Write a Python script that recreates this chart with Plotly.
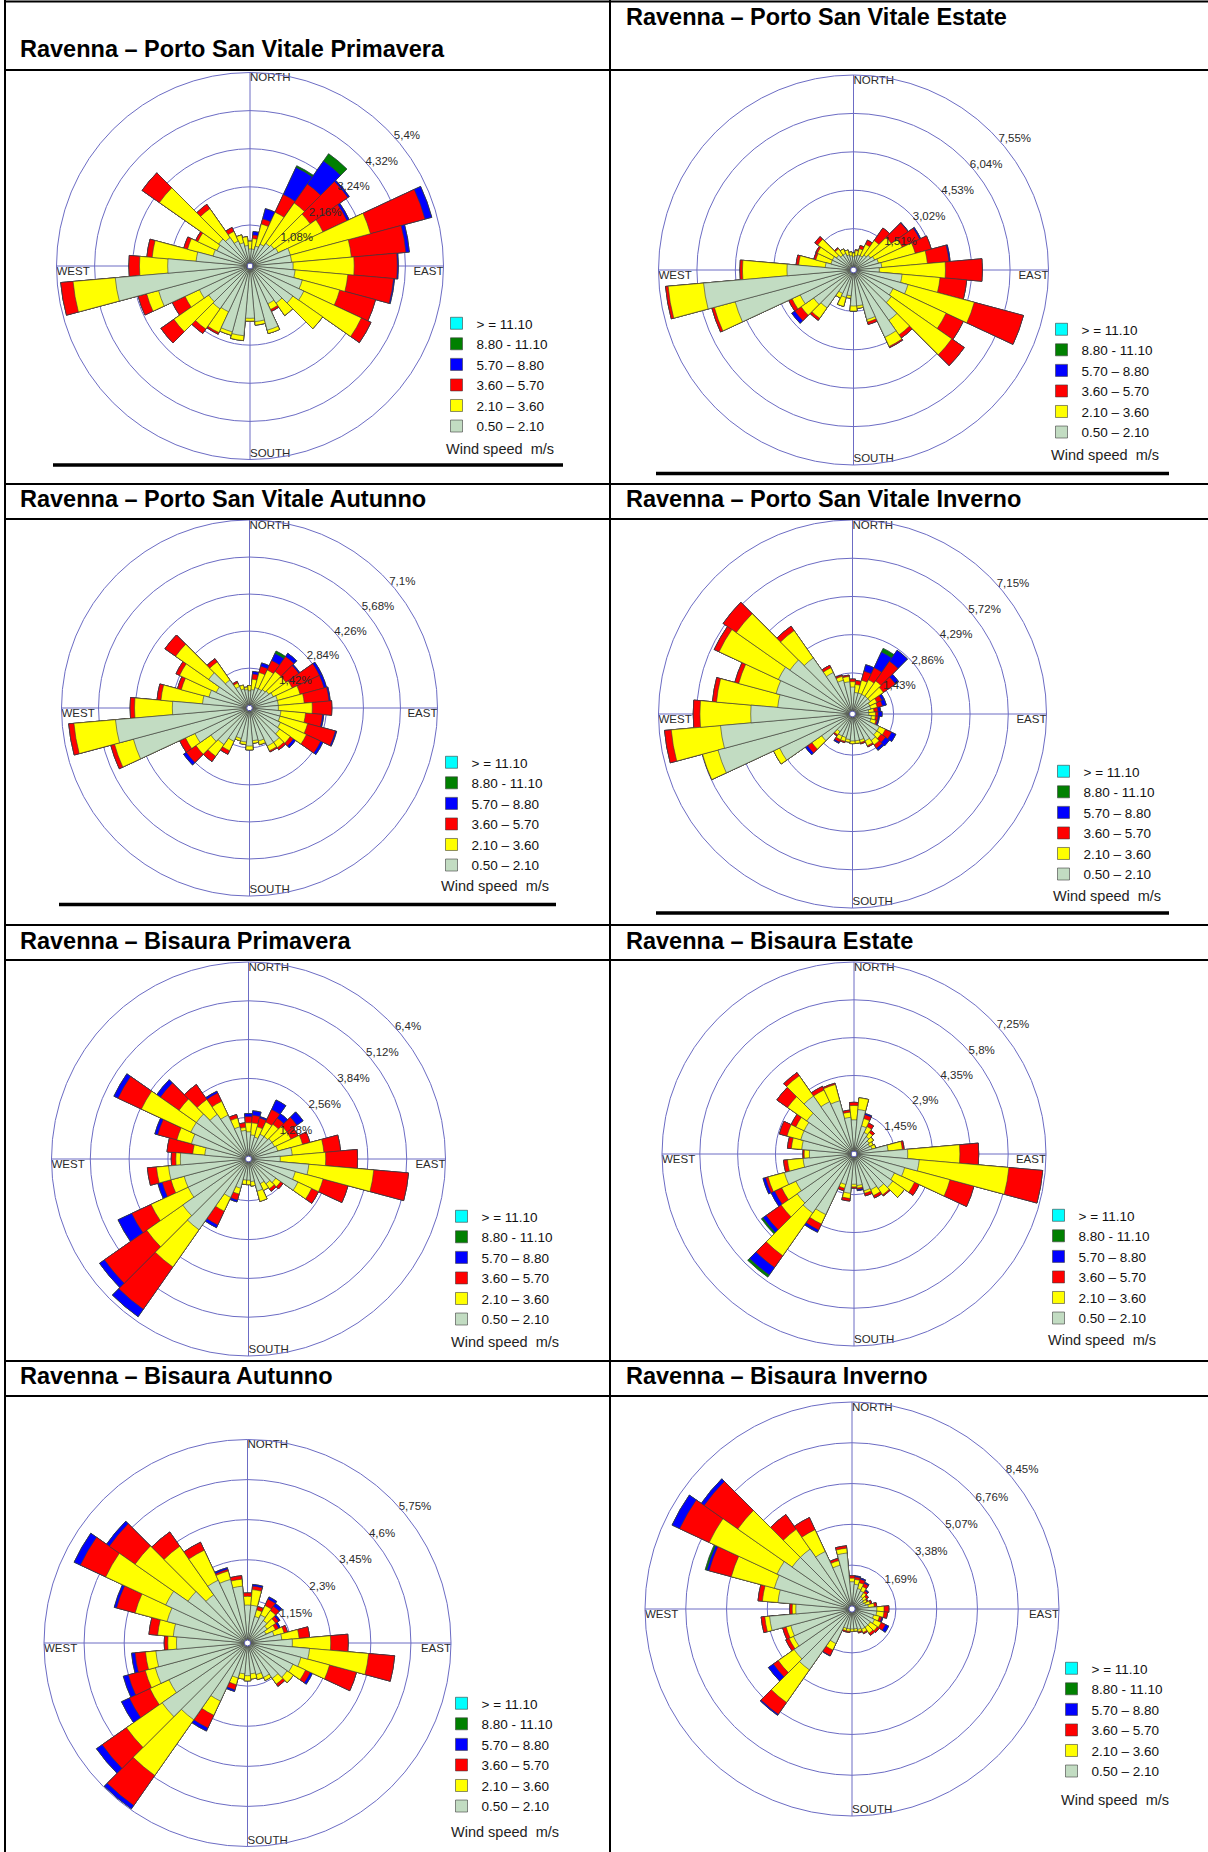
import plotly.graph_objects as go

W, H = 1208, 1852
FONT = "Arial, 'Liberation Sans', sans-serif"

DIRECTIONS = [0, 10, 20, 30, 40, 50, 60, 70, 80, 90, 100, 110, 120, 130, 140, 150, 160, 170,
              180, 190, 200, 210, 220, 230, 240, 250, 260, 270, 280, 290, 300, 310, 320, 330, 340, 350]

SPEED_CLASSES = ["> = 11.10", "8.80 - 11.10", "5.70 \u2013 8.80", "3.60 \u2013 5.70",
                 "2.10 \u2013 3.60", "0.50 \u2013 2.10"]
CLASS_COLORS = ["#00ffff", "#008000", "#0000ff", "#ff0000", "#ffff00", "#c2dcc2"]

TITLES = [
    "Ravenna \u2013 Porto San Vitale Primavera", "Ravenna \u2013 Porto San Vitale Estate",
    "Ravenna \u2013 Porto San Vitale Autunno", "Ravenna \u2013 Porto San Vitale Inverno",
    "Ravenna \u2013 Bisaura Primavera", "Ravenna \u2013 Bisaura Estate",
    "Ravenna \u2013 Bisaura Autunno", "Ravenna \u2013 Bisaura Inverno",
]

RING_VALUES = [
    [1.08, 2.16, 3.24, 4.32, 5.4], [1.51, 3.02, 4.53, 6.04, 7.55],
    [1.42, 2.84, 4.26, 5.68, 7.1], [1.43, 2.86, 4.29, 5.72, 7.15],
    [1.28, 2.56, 3.84, 5.12, 6.4], [1.45, 2.9, 4.35, 5.8, 7.25],
    [1.15, 2.3, 3.45, 4.6, 5.75], [1.69, 3.38, 5.07, 6.76, 8.45],
]
RING_LABELS = [
    ["1,08%", "2,16%", "3,24%", "4,32%", "5,4%"], ["1,51%", "3,02%", "4,53%", "6,04%", "7,55%"],
    ["1,42%", "2,84%", "4,26%", "5,68%", "7,1%"], ["1,43%", "2,86%", "4,29%", "5,72%", "7,15%"],
    ["1,28%", "2,56%", "3,84%", "5,12%", "6,4%"], ["1,45%", "2,9%", "4,35%", "5,8%", "7,25%"],
    ["1,15%", "2,3%", "3,45%", "4,6%", "5,75%"], ["1,69%", "3,38%", "5,07%", "6,76%", "8,45%"],
]

# Cumulative frequency (%) per direction: upper edge of classes
# 0.50-2.10, 2.10-3.60, 3.60-5.70, 5.70-8.80, 8.80-11.10  (no values >= 11.10)
PSV_PRIMAVERA = [
    (0.40, 0.62, 0.62, 0.62, 0.62), (0.40, 0.70, 0.80, 0.90, 0.90), (0.50, 1.15, 1.30, 1.60, 1.60),
    (0.60, 1.60, 2.15, 3.00, 3.05), (0.70, 2.10, 2.75, 3.55, 3.80), (0.75, 2.00, 3.30, 3.35, 3.35),
    (0.80, 2.20, 2.95, 3.02, 3.02), (1.10, 3.45, 5.05, 5.25, 5.25), (1.10, 2.80, 4.35, 4.45, 4.45),
    (1.14, 2.87, 4.09, 4.12, 4.12), (1.20, 2.70, 4.00, 4.03, 4.03), (1.45, 2.55, 3.60, 3.60, 3.60),
    (1.60, 3.40, 3.70, 3.70, 3.70), (1.40, 2.43, 2.43, 2.43, 2.43), (1.20, 1.63, 1.63, 1.63, 1.63),
    (1.10, 1.28, 1.34, 1.34, 1.34), (1.80, 1.90, 1.90, 1.90, 1.90), (1.50, 1.60, 1.60, 1.60, 1.60),
    (1.40, 1.48, 1.48, 1.48, 1.48), (1.90, 2.04, 2.04, 2.04, 2.04), (1.85, 1.95, 1.95, 1.95, 1.95),
    (1.35, 2.00, 2.05, 2.05, 2.05), (1.40, 2.10, 2.25, 2.25, 2.25), (1.35, 2.55, 3.00, 3.00, 3.00),
    (1.50, 1.95, 2.35, 2.35, 2.35), (2.60, 2.95, 3.20, 3.20, 3.20), (3.75, 4.95, 5.30, 5.30, 5.30),
    (2.25, 3.05, 3.35, 3.35, 3.35), (1.45, 2.70, 2.85, 2.85, 2.85), (1.00, 1.75, 1.86, 1.86, 1.86),
    (0.95, 1.55, 1.62, 1.62, 1.62), (1.00, 3.05, 3.65, 3.65, 3.65), (0.90, 1.90, 2.05, 2.05, 2.05),
    (0.70, 1.00, 1.12, 1.12, 1.12), (0.60, 0.83, 0.83, 0.83, 0.83), (0.50, 0.75, 0.75, 0.75, 0.75),
]
PSV_ESTATE = [
    (0.40, 0.55, 0.55, 0.55, 0.55), (0.45, 0.65, 0.68, 0.68, 0.68), (0.50, 0.75, 0.88, 0.88, 0.88),
    (0.50, 1.00, 1.18, 1.18, 1.18), (0.60, 1.30, 1.90, 1.90, 1.90), (0.70, 1.70, 2.50, 2.52, 2.52),
    (0.80, 2.00, 2.75, 2.80, 2.80), (0.90, 2.40, 3.05, 3.05, 3.05), (1.00, 2.80, 3.65, 3.70, 3.70),
    (0.90, 3.50, 4.95, 4.95, 4.95), (1.80, 3.30, 4.35, 4.35, 4.35), (2.10, 4.80, 6.80, 6.80, 6.80),
    (1.60, 3.90, 4.65, 4.65, 4.65), (1.70, 4.60, 5.20, 5.20, 5.20), (2.30, 3.00, 3.15, 3.15, 3.15),
    (2.80, 3.20, 3.25, 3.25, 3.25), (1.90, 2.00, 2.10, 2.10, 2.10), (1.30, 1.40, 1.40, 1.40, 1.40),
    (1.30, 1.50, 1.50, 1.50, 1.50), (0.90, 1.00, 1.00, 1.00, 1.00), (1.00, 1.37, 1.37, 1.37, 1.37),
    (0.90, 1.10, 1.10, 1.10, 1.10), (1.70, 2.20, 2.30, 2.30, 2.30), (1.80, 2.40, 2.70, 2.85, 2.85),
    (2.20, 2.55, 2.70, 2.70, 2.70), (4.70, 5.55, 5.65, 5.65, 5.65), (5.80, 7.20, 7.30, 7.30, 7.30),
    (2.50, 4.25, 4.35, 4.35, 4.35), (1.00, 2.05, 2.15, 2.15, 2.15), (0.80, 1.42, 1.50, 1.50, 1.50),
    (0.80, 1.45, 1.52, 1.52, 1.52), (0.70, 1.60, 1.74, 1.74, 1.74), (0.60, 0.90, 0.95, 0.95, 0.95),
    (0.60, 0.80, 0.80, 0.80, 0.80), (0.50, 0.70, 0.70, 0.70, 0.70), (0.45, 0.60, 0.60, 0.60, 0.60),
]
PSV_AUTUNNO = [
    (0.55, 0.75, 0.75, 0.75, 0.75), (0.60, 1.00, 1.20, 1.30, 1.30), (0.70, 1.30, 1.55, 1.68, 1.68),
    (0.70, 1.50, 1.90, 2.20, 2.30), (0.75, 1.60, 2.30, 2.45, 2.45), (0.80, 1.60, 2.20, 2.25, 2.25),
    (0.90, 1.70, 2.85, 2.95, 2.95), (1.00, 1.90, 2.85, 2.95, 2.95), (1.00, 2.00, 2.95, 3.00, 3.00),
    (1.00, 2.30, 3.05, 3.05, 3.05), (1.10, 2.05, 2.70, 2.75, 2.75), (1.10, 2.20, 3.30, 3.35, 3.35),
    (1.20, 2.30, 2.90, 3.00, 3.00), (1.30, 1.80, 1.95, 2.05, 2.05), (1.50, 1.75, 1.85, 1.85, 1.85),
    (1.50, 1.70, 1.75, 1.75, 1.75), (1.20, 1.35, 1.35, 1.35, 1.35), (1.15, 1.25, 1.25, 1.25, 1.25),
    (1.35, 1.50, 1.50, 1.50, 1.50), (1.20, 1.30, 1.30, 1.30, 1.30), (1.10, 1.20, 1.20, 1.20, 1.20),
    (1.30, 1.70, 1.85, 1.85, 1.85), (1.60, 2.15, 2.40, 2.40, 2.40), (1.70, 2.40, 2.85, 2.98, 2.98),
    (2.20, 2.60, 2.85, 2.85, 2.85), (4.50, 5.25, 5.40, 5.40, 5.40), (5.05, 6.65, 6.85, 6.85, 6.85),
    (2.85, 4.30, 4.47, 4.47, 4.47), (1.70, 3.30, 3.45, 3.45, 3.45), (1.50, 2.60, 2.75, 2.75, 2.75),
    (1.30, 2.85, 3.00, 3.00, 3.00), (1.80, 3.35, 3.85, 3.85, 3.85), (1.20, 2.05, 2.20, 2.20, 2.20),
    (0.80, 0.95, 1.02, 1.02, 1.02), (0.65, 0.80, 0.80, 0.80, 0.80), (0.60, 0.70, 0.70, 0.70, 0.70),
]
PSV_INVERNO = [
    (0.90, 1.10, 1.20, 1.20, 1.20), (0.70, 1.00, 1.15, 1.15, 1.15), (0.70, 1.20, 1.55, 1.80, 1.80),
    (0.70, 1.30, 1.80, 2.45, 2.60), (0.70, 1.40, 2.30, 2.80, 2.80), (0.70, 1.30, 1.85, 2.00, 2.00),
    (0.60, 0.90, 1.10, 1.20, 1.20), (0.60, 0.85, 1.05, 1.20, 1.20), (0.50, 0.70, 0.85, 0.95, 0.95),
    (0.50, 0.75, 0.85, 1.00, 1.00), (0.60, 0.75, 0.85, 0.90, 0.90), (0.60, 0.80, 0.85, 0.90, 0.90),
    (1.00, 1.25, 1.50, 1.68, 1.68), (1.00, 1.20, 1.40, 1.58, 1.58), (1.10, 1.30, 1.45, 1.55, 1.55),
    (1.00, 1.20, 1.25, 1.25, 1.25), (0.90, 1.00, 1.05, 1.05, 1.05), (0.90, 1.00, 1.00, 1.00, 1.00),
    (0.90, 1.00, 1.00, 1.00, 1.00), (0.85, 0.95, 0.95, 0.95, 0.95), (0.80, 0.95, 1.00, 1.00, 1.00),
    (0.80, 0.95, 1.05, 1.10, 1.10), (0.70, 0.85, 0.90, 0.90, 0.90), (1.30, 1.75, 1.95, 2.05, 2.05),
    (2.90, 3.15, 3.15, 3.15, 3.15), (5.10, 5.70, 5.70, 5.70, 5.70), (4.85, 6.70, 6.95, 6.95, 6.95),
    (3.70, 5.60, 5.85, 5.85, 5.85), (2.70, 5.00, 5.15, 5.15, 5.15), (2.85, 4.30, 4.45, 4.45, 4.45),
    (2.95, 5.40, 5.60, 5.60, 5.60), (2.75, 5.20, 5.80, 5.80, 5.80), (2.45, 3.70, 3.90, 3.90, 3.90),
    (1.60, 1.80, 1.90, 1.90, 1.90), (1.20, 1.35, 1.40, 1.40, 1.40), (1.10, 1.30, 1.35, 1.35, 1.35),
]
BIS_PRIMAVERA = [
    (0.80, 1.10, 1.30, 1.40, 1.40), (0.70, 1.10, 1.35, 1.50, 1.50), (0.65, 1.00, 1.30, 1.35, 1.35),
    (0.80, 1.25, 1.70, 2.05, 2.05), (0.80, 1.30, 1.55, 1.73, 1.73), (0.85, 1.45, 1.85, 2.10, 2.10),
    (0.85, 1.45, 1.70, 1.70, 1.70), (0.90, 1.75, 2.00, 2.00, 2.00), (1.35, 2.40, 2.95, 2.95, 2.95),
    (0.95, 2.45, 3.50, 3.50, 3.50), (1.90, 4.05, 5.20, 5.20, 5.20), (1.50, 2.45, 3.30, 3.30, 3.30),
    (1.70, 2.20, 2.45, 2.45, 2.45), (1.00, 1.20, 1.30, 1.30, 1.30), (0.90, 1.10, 1.20, 1.20, 1.20),
    (0.80, 1.05, 1.05, 1.05, 1.05), (1.00, 1.35, 1.35, 1.35, 1.35), (0.65, 0.80, 0.80, 0.80, 0.80),
    (0.60, 0.75, 0.75, 0.75, 0.75), (0.60, 0.75, 0.75, 0.75, 0.75), (0.90, 1.10, 1.30, 1.37, 1.37),
    (1.30, 1.80, 2.30, 2.40, 2.40), (2.75, 4.25, 5.95, 6.25, 6.25), (2.55, 4.00, 5.70, 5.90, 5.90),
    (2.10, 3.45, 4.15, 4.65, 4.65), (2.10, 2.55, 2.85, 3.00, 3.00), (2.55, 2.95, 3.25, 3.25, 3.25),
    (2.15, 2.30, 2.45, 2.45, 2.45), (1.35, 1.75, 2.60, 2.60, 2.60), (1.85, 2.35, 3.00, 3.10, 3.10),
    (2.00, 3.80, 4.65, 4.80, 4.80), (2.00, 2.70, 3.45, 3.60, 3.60), (1.70, 2.30, 2.90, 2.90, 2.90),
    (1.50, 2.00, 2.30, 2.37, 2.37), (1.00, 1.30, 1.42, 1.42, 1.42), (0.85, 0.95, 1.10, 1.10, 1.10),
]
BIS_ESTATE = [
    (1.20, 1.75, 1.87, 1.87, 1.87), (1.60, 2.05, 2.05, 2.05, 2.05), (1.00, 1.30, 1.45, 1.50, 1.50),
    (0.80, 1.05, 1.20, 1.20, 1.20), (0.70, 0.90, 1.00, 1.00, 1.00), (0.60, 0.80, 0.80, 0.80, 0.80),
    (0.55, 0.70, 0.70, 0.70, 0.70), (0.60, 0.75, 0.75, 0.75, 0.75), (1.20, 1.75, 1.82, 1.82, 1.82),
    (1.95, 3.95, 4.67, 4.67, 4.67), (2.40, 5.85, 7.15, 7.15, 7.15), (1.90, 3.70, 4.65, 4.65, 4.65),
    (1.60, 2.45, 2.65, 2.65, 2.65), (1.70, 2.25, 2.25, 2.25, 2.25), (1.50, 1.80, 1.85, 1.85, 1.85),
    (1.40, 1.65, 1.75, 1.75, 1.75), (1.35, 1.45, 1.55, 1.55, 1.55), (1.10, 1.20, 1.25, 1.30, 1.30),
    (1.05, 1.15, 1.20, 1.20, 1.20), (1.40, 1.60, 1.70, 1.70, 1.70), (1.10, 1.25, 1.35, 1.35, 1.35),
    (2.45, 2.85, 3.10, 3.20, 3.20), (2.65, 4.65, 5.20, 5.55, 5.65), (2.55, 3.30, 4.00, 4.15, 4.22),
    (2.35, 2.95, 3.25, 3.40, 3.40), (2.65, 3.30, 3.40, 3.50, 3.50), (1.85, 2.45, 2.60, 2.60, 2.60),
    (1.60, 1.80, 1.85, 1.85, 1.85), (1.90, 2.30, 2.45, 2.45, 2.45), (2.00, 2.55, 2.85, 2.85, 2.85),
    (2.00, 2.35, 2.55, 2.55, 2.55), (2.10, 3.00, 3.50, 3.50, 3.50), (2.60, 3.55, 3.70, 3.70, 3.70),
    (2.10, 2.60, 2.75, 2.75, 2.75), (2.00, 2.65, 2.70, 2.70, 2.70), (1.30, 1.50, 1.58, 1.58, 1.58),
]
BIS_AUTUNNO = [
    (1.00, 1.25, 1.35, 1.35, 1.35), (1.00, 1.45, 1.55, 1.60, 1.60), (0.70, 0.90, 1.00, 1.00, 1.00),
    (0.80, 1.10, 1.30, 1.37, 1.37), (0.70, 1.05, 1.20, 1.30, 1.30), (0.60, 0.90, 1.00, 1.05, 1.05),
    (0.50, 0.80, 0.90, 0.95, 0.95), (0.70, 1.00, 1.10, 1.10, 1.10), (0.90, 1.40, 1.70, 1.70, 1.70),
    (1.20, 2.30, 2.80, 2.80, 2.80), (1.70, 3.40, 4.15, 4.15, 4.15), (1.50, 2.35, 3.15, 3.15, 3.15),
    (1.35, 1.75, 1.90, 1.97, 1.97), (1.30, 1.52, 1.52, 1.52, 1.52), (1.15, 1.35, 1.43, 1.43, 1.43),
    (1.00, 1.10, 1.10, 1.10, 1.10), (0.85, 1.00, 1.00, 1.00, 1.00), (0.80, 0.95, 0.95, 0.95, 0.95),
    (0.85, 1.00, 1.00, 1.00, 1.00), (0.80, 0.95, 0.95, 0.95, 0.95), (0.95, 1.15, 1.30, 1.35, 1.35),
    (1.75, 2.20, 2.60, 2.70, 2.70), (2.60, 4.55, 5.60, 5.72, 5.72), (2.90, 4.15, 5.00, 5.20, 5.20),
    (2.40, 3.00, 3.65, 3.90, 3.90), (2.65, 2.95, 3.45, 3.60, 3.60), (2.55, 2.85, 3.15, 3.25, 3.25),
    (1.95, 2.20, 2.30, 2.30, 2.30), (2.05, 2.50, 2.75, 2.75, 2.75), (2.30, 3.25, 3.80, 3.87, 3.87),
    (2.50, 4.40, 5.20, 5.40, 5.40), (2.00, 3.85, 4.75, 4.85, 4.85), (1.60, 3.30, 3.80, 3.80, 3.80),
    (1.90, 2.85, 3.10, 3.10, 3.10), (1.80, 2.05, 2.10, 2.15, 2.15), (1.55, 1.75, 1.85, 1.85, 1.85),
]
BIS_INVERNO = [
    (1.00, 1.15, 1.25, 1.25, 1.25), (0.90, 1.10, 1.20, 1.25, 1.25), (0.75, 1.00, 1.15, 1.20, 1.20),
    (0.70, 0.90, 1.05, 1.10, 1.10), (0.50, 0.70, 0.80, 0.85, 0.85), (0.45, 0.60, 0.70, 0.70, 0.70),
    (0.40, 0.55, 0.60, 0.60, 0.60), (0.45, 0.65, 0.72, 0.72, 0.72), (0.55, 0.80, 0.90, 0.90, 0.90),
    (0.90, 1.20, 1.40, 1.40, 1.40), (0.90, 1.20, 1.35, 1.35, 1.35), (0.80, 1.05, 1.15, 1.20, 1.20),
    (0.90, 1.20, 1.40, 1.55, 1.55), (0.80, 1.15, 1.25, 1.25, 1.25), (0.80, 1.10, 1.20, 1.20, 1.20),
    (0.80, 0.95, 1.00, 1.00, 1.00), (0.75, 0.85, 0.90, 0.90, 0.90), (0.70, 0.80, 0.80, 0.80, 0.80),
    (0.70, 0.80, 0.80, 0.80, 0.80), (0.70, 0.80, 0.85, 0.85, 0.85), (0.70, 0.80, 0.85, 0.85, 0.85),
    (1.45, 1.75, 2.00, 2.02, 2.02), (2.95, 4.60, 5.20, 5.25, 5.25), (2.80, 3.60, 3.85, 4.10, 4.10),
    (2.55, 2.75, 2.90, 2.90, 2.90), (2.50, 2.70, 2.85, 2.85, 2.85), (3.30, 3.50, 3.65, 3.65, 3.65),
    (2.20, 2.35, 2.45, 2.45, 2.45), (2.95, 3.60, 3.78, 3.78, 3.78), (3.20, 5.05, 6.00, 6.10, 6.17),
    (3.30, 6.40, 7.75, 8.10, 8.10), (2.90, 5.65, 7.35, 7.50, 7.50), (2.90, 3.90, 4.65, 4.65, 4.65),
    (2.50, 3.50, 4.05, 4.05, 4.05), (1.75, 1.95, 2.05, 2.05, 2.05), (2.20, 2.40, 2.50, 2.50, 2.50),
]

PANEL_DATA = [PSV_PRIMAVERA, PSV_ESTATE, PSV_AUTUNNO, PSV_INVERNO,
              BIS_PRIMAVERA, BIS_ESTATE, BIS_AUTUNNO, BIS_INVERNO]

# ---- layout geometry (pixels from the page's top-left) ----
GEOM = [
    dict(cx=250, cy=266, R=193.5, leg=(455, 328), wind=449, title=(18, 49)),
    dict(cx=853.5, cy=270, R=195, leg=(1060, 334), wind=455, title=(624, 17)),
    dict(cx=249.5, cy=708, R=188, leg=(450, 767), wind=886, title=(18, 499)),
    dict(cx=852.5, cy=714, R=194, leg=(1062, 776), wind=896, title=(624, 499)),
    dict(cx=248.5, cy=1159, R=197, leg=(460, 1221), wind=1342, title=(18, 941)),
    dict(cx=854, cy=1154, R=192, leg=(1057, 1220), wind=1340, title=(624, 941)),
    dict(cx=247.5, cy=1643, R=203.5, leg=(460, 1708), wind=1832, title=(18, 1376)),
    dict(cx=852, cy=1609, R=207, leg=(1070, 1673), wind=1800, title=(624, 1376)),
]

RING_COLOR = "#6c6cc4"
LABEL_ANGLE = 48


def px(x):
    return x / W


def py(y):
    return 1 - y / H


fig = go.Figure()
layout = dict(
    width=W, height=H, margin=dict(l=0, r=0, t=0, b=0),
    paper_bgcolor="white", plot_bgcolor="white", showlegend=True,
    annotations=[], shapes=[],
)

for k in range(8):
    g = GEOM[k]
    sp = "polar" if k == 0 else f"polar{k + 1}"
    lg = "legend" if k == 0 else f"legend{k + 1}"
    data = PANEL_DATA[k]
    cols = list(zip(*data))
    # overlay: outermost cumulative first, innermost last
    r_lists = [cols[4], cols[4], cols[3], cols[2], cols[1], cols[0]]
    for name, color, rr in zip(SPEED_CLASSES, CLASS_COLORS, r_lists):
        fig.add_trace(go.Barpolar(
            r=list(rr), theta=DIRECTIONS, width=[10] * len(DIRECTIONS), name=name,
            marker=dict(color=color, line=dict(color="#3c3c3c", width=0.6)),
            subplot=sp, legend=lg, hoverinfo="skip",
        ))
    outer = RING_VALUES[k][-1]
    # compass labels
    fig.add_trace(go.Scatterpolar(
        r=[outer] * 4, theta=[0, 90, 180, 270], mode="text",
        text=["NORTH", "EAST", "SOUTH", "WEST"],
        textposition=["bottom right", "bottom left", "top right", "bottom right"],
        textfont=dict(family=FONT, size=11.5, color="#2a2a2a"),
        showlegend=False, subplot=sp, cliponaxis=False, hoverinfo="skip",
    ))
    # ring labels
    fig.add_trace(go.Scatterpolar(
        r=RING_VALUES[k], theta=[LABEL_ANGLE] * len(RING_VALUES[k]), mode="text",
        text=RING_LABELS[k], textposition="middle right",
        textfont=dict(family=FONT, size=11.5, color="#2a2a2a"),
        showlegend=False, subplot=sp, cliponaxis=False, hoverinfo="skip",
    ))
    cx, cy, R = g["cx"], g["cy"], g["R"]
    layout[sp] = dict(
        domain=dict(x=[px(cx - R), px(cx + R)], y=[py(cy + R), py(cy - R)]),
        bgcolor="white", hole=0.015, barmode="overlay", bargap=0,
        angularaxis=dict(rotation=90, direction="clockwise", tickmode="array",
                         tickvals=[0, 90, 180, 270], showticklabels=False, ticks="",
                         gridcolor=RING_COLOR, gridwidth=1, showline=True,
                         linecolor=RING_COLOR, linewidth=1),
        radialaxis=dict(range=[0, outer], tickmode="array", tickvals=RING_VALUES[k],
                        showticklabels=False, showline=False, ticks="",
                        gridcolor=RING_COLOR, gridwidth=1),
    )
    lx, ly = g["leg"]
    layout[lg] = dict(
        x=px(lx - 18.5), y=py(ly - 4 - 16), xanchor="left", yanchor="top",
        font=dict(family=FONT, size=13.5, color="#111111"),
        bgcolor="rgba(0,0,0,0)", traceorder="normal", itemclick=False,
        itemdoubleclick=False, tracegroupgap=0,
    )
    layout["annotations"].append(dict(
        x=px(lx - 11), y=py(g["wind"]), xref="paper", yref="paper",
        xanchor="left", yanchor="middle",
        text="Wind speed  m/s", showarrow=False,
        font=dict(family=FONT, size=14.5, color="#222222"),
    ))
    tx, ty = g["title"]
    layout["annotations"].append(dict(
        x=px(tx), y=py(ty), xref="paper", yref="paper", xanchor="left", yanchor="middle",
        text=f"<b>{TITLES[k]}</b>", showarrow=False,
        font=dict(family=FONT, size=23.5, color="#000000"),
    ))


def hline(x0, x1, y, w=2):
    return dict(type="line", xref="paper", yref="paper", x0=px(x0), x1=px(x1),
                y0=py(y), y1=py(y), line=dict(color="black", width=w))


def vline(x, y0, y1, w=2):
    return dict(type="line", xref="paper", yref="paper", x0=px(x), x1=px(x),
                y0=py(y0), y1=py(y1), line=dict(color="black", width=w))


shapes = [vline(5, 0, H), vline(610, 0, H)]
for y in [1.5, 70, 484, 519, 925, 960, 1361, 1396]:
    shapes.append(hline(5, W, y))
shapes += [hline(53, 563, 465, 3.5), hline(656, 1169, 473.5, 3.5),
           hline(59, 556, 904.5, 3.5), hline(656, 1169, 913, 3.5)]
layout["shapes"] = shapes

fig.update_layout(**layout)
fig.write_html("out.html", config={"displayModeBar": False},
               post_script="document.body.style.margin='0px';")
